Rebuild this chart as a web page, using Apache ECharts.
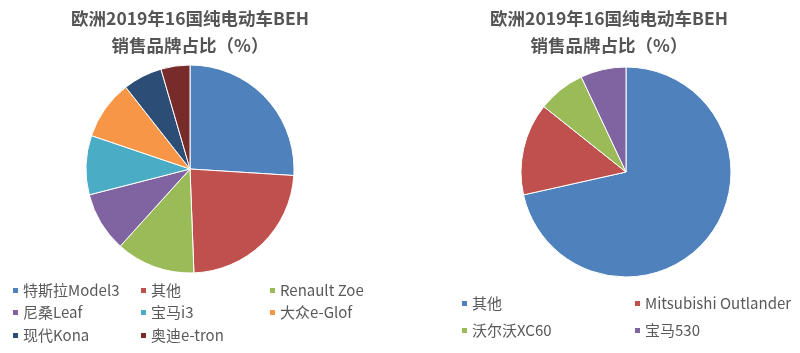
<!DOCTYPE html>
<html lang="zh">
<head>
  <meta charset="UTF-8">
  <title>欧洲2019年16国纯电动车BEH销售品牌占比</title>
  <style>
    html, body { margin: 0; padding: 0; width: 800px; height: 353px; overflow: hidden; background: #fff; }
    .box { position: absolute; top: 0; height: 353px; }
  </style>
</head>
<body>
  <div id="left" class="box" style="left: 0; width: 380px;"></div>
  <div id="right" class="box" style="left: 420px; width: 378px;"></div>
<script src="https://cdn.jsdelivr.net/npm/echarts@6/dist/echarts.min.js"></script>
<script>
  // 左图：品牌占比（%）
  var leftNames = ['特斯拉Model3', '其他', 'Renault Zoe', '尼桑Leaf', '宝马i3', '大众e-Glof', '现代Kona', '奥迪e-tron'];
  var leftValues = [26.0, 23.4, 12.3, 9.3, 9.2, 9.2, 6.1, 4.5];
  var leftColors = ['#4F81BD', '#C0504D', '#9BBB59', '#8064A2', '#4BACC6', '#F79646', '#2C4D75', '#772C2A'];

  // 右图
  var rightNames = ['其他', 'Mitsubishi Outlander', '沃尔沃XC60', '宝马530'];
  var rightValues = [71.5, 14.2, 7.3, 7.0];
  var rightColors = ['#4F81BD', '#C0504D', '#9BBB59', '#8064A2'];

  var titleText = '欧洲2019年16国纯电动车BEH\n销售品牌占比（%）';
  var font = '"Noto Sans CJK SC", "Noto Sans", sans-serif';

  // 每个图例项单独放，按列排
  function makeLegends(names, colX, rowY, perRow) {
    return names.map(function (n, i) {
      return {
        data: [n],
        left: colX[i % perRow],
        top: rowY[Math.floor(i / perRow)] - 9,
        padding: 0,
        icon: 'rect',
        itemWidth: 7,
        itemHeight: 7,
        itemGap: 0,
        selectedMode: false,
        textStyle: { fontFamily: font, fontSize: 15, color: '#595959', padding: [0, 0, 0, -1] }
      };
    });
  }

  function makeOption(names, values, colors, center, radius, legends) {
    return {
      animation: false,
      color: colors,
      title: {
        text: titleText,
        left: 'center',
        top: 0,
        textStyle: { fontFamily: font, fontSize: 17.5, fontWeight: 'bold', color: '#555555', lineHeight: 27 }
      },
      legend: legends,
      series: [{
        type: 'pie',
        center: center,
        radius: radius,
        startAngle: 90,
        clockwise: true,
        label: { show: false },
        labelLine: { show: false },
        itemStyle: { borderColor: '#fff', borderWidth: 1 },
        data: names.map(function (n, i) { return { name: n, value: values[i] }; })
      }]
    };
  }

  var leftChart = echarts.init(document.getElementById('left'));
  var rightChart = echarts.init(document.getElementById('right'));

  leftChart.setOption(makeOption(leftNames, leftValues, leftColors, [190, 169], 104,
    makeLegends(leftNames, [11, 139, 268], [292, 314, 337], 3)));
  rightChart.setOption(makeOption(rightNames, rightValues, rightColors, [206, 172], 105,
    makeLegends(rightNames, [40, 213], [305, 332], 2)));
</script>
</body>
</html>
